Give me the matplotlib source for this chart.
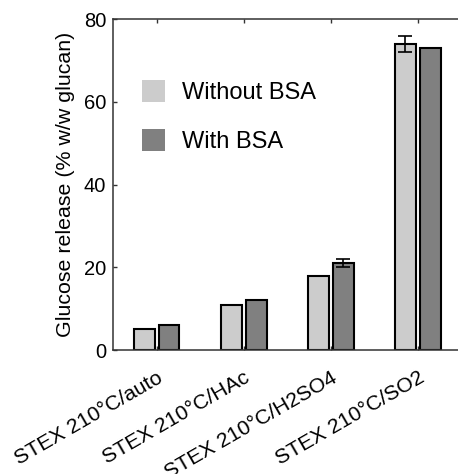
import matplotlib
matplotlib.use("Agg")
import matplotlib.pyplot as plt
import matplotlib.transforms as mtransforms
import numpy as np

plt.rcParams['font.family'] = ['Liberation Sans', 'DejaVu Sans']

categories = ["STEX 210°C/auto", "STEX 210°C/HAc", "STEX 210°C/H2SO4", "STEX 210°C/SO2"]
without_bsa = [5.0, 11.0, 18.0, 74.0]
without_err = [0, 0, 0, 2.0]
with_bsa = [6.0, 12.0, 21.0, 73.0]
with_err = [0, 0, 1.0, 0]

x = np.arange(1, len(categories) + 1)
w = 0.24
off = 0.143

fig = plt.figure(figsize=(4.58, 4.74), dpi=100)
ax = fig.add_axes([0.2467, 0.2616, 0.761, 0.698])

ax.bar(x - off, without_bsa, w, color="#cccccc", edgecolor="black", linewidth=1.5,
       label="Without BSA", zorder=2)
ax.bar(x + off, with_bsa, w, color="#808080", edgecolor="black", linewidth=1.5,
       label="With BSA", zorder=2)

# error bars only where there is an error
for xs, vals, errs in [(x - off, without_bsa, without_err), (x + off, with_bsa, with_err)]:
    for xi, v, e in zip(xs, vals, errs):
        if e > 0:
            ax.errorbar(xi, v, yerr=e, fmt="none", ecolor="black", elinewidth=1.2,
                        capsize=5, capthick=1.2, zorder=3)

ax.set_xlim(0.5, 4.5)
ax.set_ylim(0, 80)
ax.set_yticks([0, 20, 40, 60, 80])
ax.set_xticks(x)
ax.set_xticklabels(categories, rotation=30, ha="right", va="top",
                   rotation_mode="anchor", fontsize=15.2)
dx = mtransforms.ScaledTranslation(6 / 100, 0, fig.dpi_scale_trans)
for lab in ax.get_xticklabels():
    lab.set_transform(lab.get_transform() + dx)

ax.tick_params(axis="both", direction="in", length=3, width=1, color="#333333",
               top=True, right=True)
ax.tick_params(axis="y", labelsize=14.5, pad=5)
ax.tick_params(axis="x", pad=13)
for s in ax.spines.values():
    s.set_linewidth(1.1)
    s.set_color("#333333")

ax.set_ylabel("Glucose release (% w/w glucan)", fontsize=15.4, labelpad=6)

leg = ax.legend(loc="upper left", bbox_to_anchor=(0.021, 0.88), frameon=False,
                fontsize=17, handlelength=1.0, handleheight=1.05,
                handletextpad=0.7, labelspacing=1.05)
for h in leg.legend_handles:
    h.set_edgecolor("none")

fig.savefig("out.png", dpi=100)
